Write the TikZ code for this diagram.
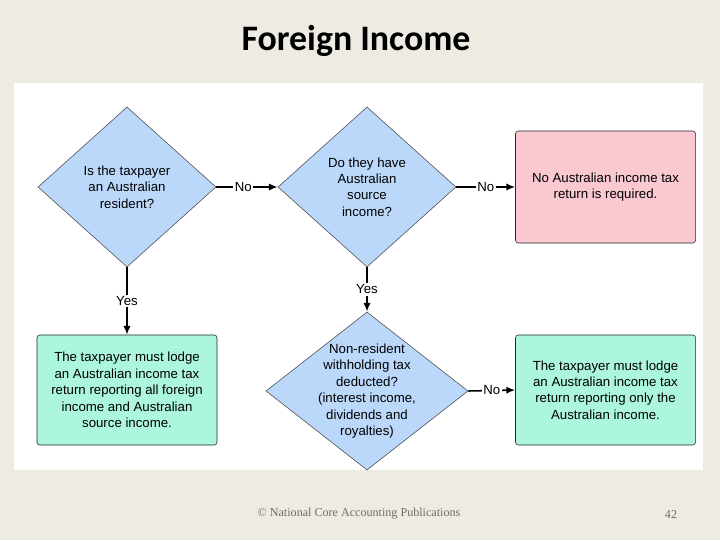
\documentclass[tikz,border=0pt]{standalone}
\usepackage{fontspec}
\setmainfont{Liberation Sans}
\newfontfamily\titlefont{Carlito}
\newfontfamily\footfont{Liberation Serif}
\usepackage{xcolor}
\usepackage{tikz}
\usetikzlibrary{arrows.meta,shapes.geometric}
\definecolor{slidebg}{RGB}{238,235,226}
\definecolor{askblue}{RGB}{187,216,250}
\definecolor{nopink}{RGB}{250,200,208}
\definecolor{lodgegreen}{RGB}{172,246,222}
\definecolor{footgray}{RGB}{110,110,110}
\newcommand{\flowfont}{\fontsize{9.4}{11.7}\selectfont}

\begin{document}
\begin{tikzpicture}[
    x=0.025cm, y=-0.025cm,
    >={Latex[length=2.2mm,width=1.8mm]},
    question/.style={diamond, draw=black!70, fill=askblue, inner sep=0pt, aspect=1.11, align=center, font=\flowfont},
    outcome/.style={draw=black!85, rounded corners=2pt, minimum width=4.5cm, minimum height=2.75cm, align=center, font=\flowfont},
    answer/.style={fill=white, inner sep=1pt, font=\flowfont},
    flow/.style={->, line width=1.1pt}
]
\fill[slidebg] (0,0) rectangle (720,540);
\useasboundingbox (0,0) rectangle (720,540);
\fill[white] (14,83) rectangle (703,470);

\node[font=\titlefont\bfseries\fontsize{25.5}{30}\selectfont] (title) at (356,41) {Foreign Income};

\node[question, minimum width=4.45cm, minimum height=4cm] (resident) at (127,187) {Is the taxpayer\\an Australian\\resident?};
\node[question, minimum width=4.45cm, minimum height=4cm] (source) at (367,187) {Do they have\\Australian\\source\\income?};
\node[question, aspect=1.28, inner sep=-4pt, minimum width=5.05cm, minimum height=3.95cm] (withhold) at (367,391) {Non-resident\\withholding tax\\deducted?\\(interest income,\\dividends and\\royalties)};

\node[outcome, fill=nopink, minimum height=2.8cm] (noreturn) at (605.5,187) {No Australian income tax\\return is required.};
\node[outcome, fill=lodgegreen] (lodgeall) at (127,390) {The taxpayer must lodge\\an Australian income tax\\return reporting all foreign\\income and Australian\\source income.};
\node[outcome, fill=lodgegreen] (lodgeaus) at (605.5,390) {The taxpayer must lodge\\an Australian income tax\\return reporting only the\\Australian income.};

\draw[flow] (resident.east) -- node[answer, pos=0.44] {No} (source.west);
\draw[flow] (source.east) -- node[answer] {No} (noreturn.west);
\draw[flow] (resident.south) -- node[answer] {Yes} (lodgeall.north);
\draw[flow] (source.south) -- node[answer] {Yes} (withhold.north);
\draw[flow] (withhold.east) -- node[answer] {No} (lodgeaus.west);

\node[font=\footfont\fontsize{8.6}{10}\selectfont, text=footgray] (credit) at (359,514) {© National Core Accounting Publications};
\node[font=\footfont\fontsize{8.6}{10}\selectfont, text=footgray] (page) at (671,514) {42};
\end{tikzpicture}
\end{document}
